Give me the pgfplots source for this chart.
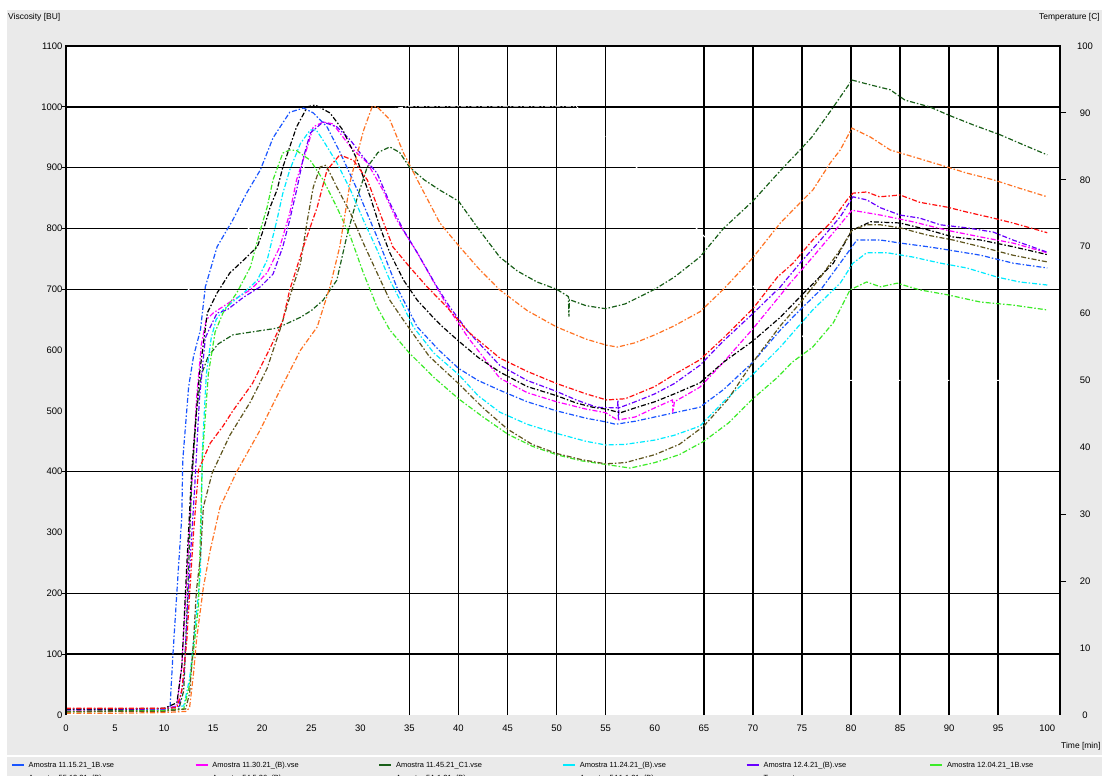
\documentclass[border=0pt]{standalone}
\usepackage{fontspec}
\setmainfont{Liberation Sans}
\usepackage{pgfplots}
\pgfplotsset{compat=1.18}

\definecolor{cBlue}{RGB}{25,85,255}
\definecolor{cMagenta}{RGB}{255,0,255}
\definecolor{cDkGreen}{RGB}{25,95,25}
\definecolor{cCyan}{RGB}{0,235,255}
\definecolor{cPurple}{RGB}{105,0,255}
\definecolor{cLtGreen}{RGB}{60,235,40}
\definecolor{cOlive}{RGB}{95,85,30}
\definecolor{cOrange}{RGB}{255,115,35}
\definecolor{cRed}{RGB}{255,15,15}
\definecolor{panel}{RGB}{234,234,234}

\pgfplotsset{
  curve/.style={no marks, line width=1.2bp, dash pattern=on 5bp off 2bp on 1.5bp off 2bp},
}
\newcommand{\entry}[1]{\makebox[170bp][l]{\hspace{4bp}#1}}

\begin{document}
\begin{tikzpicture}
% window background
\fill[white] (-66bp,-61bp) rectangle (1036bp,715bp);
\fill[panel] (-59bp,-61bp) rectangle (1036bp,705bp);
\draw[white, line width=1.5bp] (-59bp,-41bp) -- (1036bp,-41bp);

\begin{axis}[
  scale only axis, width=994bp, height=669bp,
  xmin=0, xmax=101.3, ymin=0, ymax=1100,
  axis background/.style={fill=white},
  axis line style={draw=none},
  xtick={0,5,...,100}, ytick={0,100,...,1100},
  major tick length=0pt,
  xtick pos=bottom, ytick pos=left,
  extra x ticks={35,40,45,50,55,65,70,75,80,85,90,95},
  extra x tick labels={},
  extra x tick style={grid=major, major tick length=0pt},
  extra y ticks={100,200,400,700,800,900,1000},
  extra y tick labels={},
  extra y tick style={grid=major, tick align=outside, major tick length=4bp},
  grid style={black, line width=1.5bp},
  tick style={black, line width=1.2bp},
  ticklabel style={font=\fontsize{9.5}{11}\selectfont, text=black},
  xticklabel style={yshift=-6bp},
  /pgf/number format/assume math mode=true,
  /pgf/number format/1000 sep={},
  legend columns=6,
  legend style={at={(axis description cs:-0.0553,-0.0700)}, anchor=north west,
    draw=none, fill=none, inner sep=0pt, outer sep=0pt,
    font=\fontsize{7.5}{9}\selectfont, column sep=0pt, row sep=6bp,
    nodes={inner sep=0pt}},
  legend image code/.code={\draw[#1, solid, line width=1.7bp] (0bp,0bp) -- (12bp,0bp);},
]

% temperature profile (right scale, 1 degree = 11 BU)
\addplot[white, line width=1bp, dash pattern=on 5bp off 2bp on 1.5bp off 2bp, forget plot,
  y filter/.expression={11*y}] coordinates {
  (0,44) (12.5,63.6) (18.6,72.7) (24.2,81.8) (29,88.5) (32,90.3) (35,91) (52,91) (79.5,50) (101,50)};

% blue
\addplot[curve, cBlue] coordinates {
  (0,10) (5,10) (10,10) (10.6,12) (10.9,100) (11.4,227) (11.8,326) (11.9,419) (12.5,540) (13.0,590)
  (13.7,633) (14.2,704) (15.4,770) (17.0,814) (18.4,858) (19.8,896) (21.1,949) (22.8,991) (24.2,998)
  (25.2,990) (26.6,967) (27.9,926) (29.7,863) (31.7,786) (33.7,704) (35.8,638) (38,600) (40,570)
  (42,550) (44.2,534) (47,515) (50,500) (53,488) (55,482) (56,478) (58,483) (60,490) (62,497)
  (64.6,506) (67,535) (70,580) (72.8,633) (74.8,666) (76.9,699) (78.9,743) (80.6,781) (83,781)
  (85,776) (87.8,770) (89.8,765) (93.2,756) (96.5,743) (100,735)};
\addlegendentry{\entry{Amostra 11.15.21\_1B.vse}}

% magenta
\addplot[curve, cMagenta] coordinates {
  (0,8) (5,9) (10,10) (11.3,15) (11.8,80) (12.3,222) (12.8,375) (13.3,520) (13.8,610) (14.3,650)
  (15.0,661) (17.0,682) (18.8,699) (20.5,727) (21.8,770) (22.8,825) (23.5,880) (24.6,934) (25.2,967)
  (26.2,975) (27.2,972) (29.0,934) (30.7,908) (32.3,863) (33.7,814) (35.8,760) (38.1,694) (39.1,666)
  (41,620) (44.2,554) (47,530) (50,515) (53,503) (55,497) (56.2,485) (58,490) (60,505) (61.8,518)
  (61.85,497) (62,515) (64.6,539) (67,580) (70,635) (73.8,710) (76.1,753) (78.2,793) (80.1,830)
  (83,822) (86.3,811) (89.8,797) (93.2,786) (96.5,776) (100,760)};
\addlegendentry{\entry{Amostra 11.30.21\_(B).vse}}

% dark green
\addplot[curve, cDkGreen] coordinates {
  (0,6) (5,7) (10,8) (11.5,10) (12.0,40) (12.4,200) (12.8,380) (13.3,500) (13.8,560) (14.5,590)
  (15.5,610) (17,625) (19,630) (21.5,636) (23.9,654) (25,665) (26.2,682) (27.6,715) (28.6,786)
  (29.7,852) (30.7,901) (31.8,925) (33,934) (34,925) (35,901) (36.5,880) (38.1,863) (40,845)
  (42,800) (44.2,753) (46,730) (48,712) (50,700) (51.2,688) (51.25,655) (51.3,683) (53,673)
  (55,668) (57,676) (60,700) (62,720) (64.6,753) (67,800) (70,845) (72.8,895) (74.8,929) (76,950)
  (78,995) (80.1,1044) (82,1036) (84,1028) (85.5,1011) (88,1000) (90,986) (92.5,970) (95.2,954)
  (97.5,938) (100,921)};
\addlegendentry{\entry{Amostra 11.45.21\_C1.vse}}

% cyan
\addplot[curve, cCyan] coordinates {
  (0,9) (5,10) (10,10) (12,15) (12.6,60) (13.2,150) (13.7,233) (13.9,436) (14.3,560) (14.8,620)
  (15.3,650) (16,666) (18.1,694) (19.5,715) (20.5,748) (21.5,814) (22.1,858) (22.8,896) (23.9,940)
  (24.9,962) (25.5,962) (26.2,945) (27.6,908) (29,863) (30.3,814) (31.7,765) (33,715) (34.4,671)
  (35.4,638) (37.5,595) (40,560) (42,525) (44.2,498) (47,478) (50,463) (53,450) (55,444) (57,445)
  (60,452) (62,460) (64.6,475) (67,515) (70,560) (72.8,605) (76.1,666) (78.9,710) (80.2,743)
  (81.6,760) (83.7,760) (86.3,753) (89.1,743) (91.8,735) (94.9,720) (97.2,712) (100,707)};
\addlegendentry{\entry{Amostra 11.24.21\_(B).vse}}

% purple
\addplot[curve, cPurple] coordinates {
  (0,9) (5,9) (10,10) (11.5,14) (12.0,60) (12.6,240) (13.1,370) (13.6,520) (14.2,620) (14.7,638)
  (15.4,661) (16.4,666) (18.1,687) (19.8,704) (21.1,725) (22.1,770) (22.8,814) (23.5,863) (24.2,917)
  (24.9,957) (26.2,975) (27.6,967) (29.0,945) (30.3,917) (31.7,891) (33.0,842) (34.4,797) (35.8,760)
  (37.8,704) (39.1,671) (41,630) (44.2,575) (47,550) (50,532) (52,518) (54.1,506) (56.2,505)
  (56.25,518) (56.3,485) (56.35,505) (58,515) (60,528) (62,545) (64.6,575) (67,615) (70,660)
  (72.8,704) (74.8,743) (76.9,781) (78.9,819) (80.2,852) (81.6,847) (83,834) (85,822) (87,817)
  (89.1,806) (91.8,801) (94.5,794) (96.5,781) (100,761)};
\addlegendentry{\entry{Amostra 12.4.21\_(B).vse}}

% light green
\addplot[curve, cLtGreen] coordinates {
  (0,5) (5,6) (10,7) (12,10) (12.6,50) (13.5,178) (13.9,424) (14.5,560) (15.2,630) (16,661)
  (17.4,694) (18.8,737) (19.8,797) (20.5,835) (21.1,880) (22.1,924) (22.8,929) (23.5,928) (24.9,912)
  (26.2,880) (27.6,835) (29,786) (30.3,727) (31.7,671) (33,633) (35,595) (37.5,555) (40,520)
  (42.5,490) (45,462) (47.5,442) (50,428) (52.5,418) (55,412) (57.5,406) (60,415) (62.5,428)
  (65,450) (67.5,480) (70,520) (72.5,555) (74,580) (76.1,605) (78.2,645) (79.9,699) (81.6,712)
  (83,704) (84.7,710) (87,699) (89.8,691) (93.2,679) (96.5,674) (100,666)};
\addlegendentry{\entry{Amostra 12.04.21\_1B.vse}}

% black
\addplot[curve, black] coordinates {
  (0,10) (5,10) (10,11) (11.3,20) (11.8,79) (12.3,243) (12.8,398) (13.0,441) (13.6,560) (14.4,661)
  (15.4,694) (16.7,727) (18.1,748) (19.5,770) (20.1,797) (20.8,835) (21.5,863) (22.1,901) (22.8,934)
  (23.5,967) (24.6,1000) (25.4,1003) (26.9,990) (28.2,962) (29.7,912) (31,852) (32,802) (33,760)
  (34.4,715) (35.8,682) (37.4,654) (38.4,638) (40,615) (42,588) (44.2,564) (47,540) (50,525)
  (52,513) (53.7,506) (55,503) (56.5,497) (58,505) (60,515) (62,528) (64.6,546) (67,580) (70,615)
  (72.8,654) (75.5,699) (78.2,743) (80.1,797) (82,811) (85,809) (88,797) (90.4,786) (93.2,781)
  (96.5,770) (100,757)};
\addlegendentry{\entry{Amostra 55.12.21\_(B).vse}}

% olive
\addplot[curve, cOlive] coordinates {
  (0,5) (5,6) (10,6) (12.2,10) (12.6,36) (13.0,123) (13.3,206) (13.7,260) (14.0,342) (14.9,398)
  (16.7,460) (18.8,515) (20.5,570) (21.8,633) (22.8,687) (23.9,743) (24.6,814) (25.2,868) (25.9,901)
  (26.5,904) (27.6,868) (29,825) (30.3,776) (31.7,727) (33,682) (34.4,649) (37,590) (40,545)
  (42.5,505) (45,470) (47.5,445) (50,430) (52.5,420) (55,413) (57,415) (60,428) (62.5,445) (65,475)
  (67.5,520) (70,580) (72.8,640) (74.8,677) (76.9,720) (78.9,765) (80.1,797) (81.6,806) (83,806)
  (85,801) (87.8,789) (90.4,781) (93.2,770) (96.5,756) (100,745)};
\addlegendentry{\entry{Amostra 54.5.26\_(B).vse}}

% orange
\addplot[curve, cOrange] coordinates {
  (0,3) (5,3) (10,4) (12.3,6) (12.6,13) (13.0,69) (13.3,123) (14.0,210) (14.7,271) (15.7,342)
  (17.4,400) (19.8,469) (22,540) (23.9,600) (25.6,638) (26.9,704) (27.9,770) (29,880) (30.3,960)
  (31.2,1000) (31.7,1000) (33,979) (34.4,924) (35.8,880) (38.1,809) (40,772) (42,735) (44.2,699)
  (47,665) (50,638) (53,618) (55.1,608) (56.2,605) (58,612) (60,625) (62,640) (64.6,663) (67,700)
  (70,752) (72.8,809) (74.8,842) (76.1,863) (77.9,908) (78.9,929) (80.1,965) (82,950) (84,929)
  (86.3,918) (89.8,901) (91.8,891) (94.5,880) (97.2,866) (100,852)};
\addlegendentry{\entry{Amostra 5A.1.21\_(B).vse}}

% red
\addplot[curve, cRed] coordinates {
  (0,11) (5,11) (10,11) (11.3,12) (11.8,40) (12.3,120) (12.6,200) (13.0,300) (13.5,403) (14.7,447)
  (16,475) (17,500) (19,545) (21,610) (22.1,649) (22.8,699) (24.2,770) (25.6,835) (26.6,896)
  (27.9,921) (29.3,912) (30.7,880) (32,825) (33.3,770) (35,737) (36.8,704) (38.8,671) (41,630)
  (44.2,587) (47,565) (50,545) (53,528) (55.1,518) (57,520) (60,540) (62,560) (64.6,584) (67,620)
  (70,668) (72.5,720) (74.1,743) (76.1,781) (77.9,809) (79.6,847) (80.2,858) (81.6,860) (82.9,852)
  (85,855) (87,843) (89.8,835) (91.8,827) (94.5,817) (96.5,809) (100,793)};
\addlegendentry{\entry{Amostra 5A1.1.21\_(B).vse}}

\addlegendimage{white, line width=1.2bp}
\addlegendentry{\entry{Temperatura}}
\end{axis}

% right-hand temperature scale
\begin{axis}[
  scale only axis, width=994bp, height=669bp,
  xmin=0, xmax=101.3, ymin=0, ymax=100,
  axis x line=none, axis y line*=right,
  axis line style={draw=none},
  ytick={0,10,...,100}, major tick length=0pt,
  extra y ticks={20,30,80,90}, extra y tick labels={},
  extra y tick style={tick align=outside, major tick length=6bp},
  tick style={black, line width=1.2bp},
  yticklabel style={anchor=center, xshift=25bp, font=\fontsize{9.5}{11}\selectfont, text=black},
  /pgf/number format/assume math mode=true,
]
\end{axis}

% plot frame (open at the bottom)
\draw[black, line width=1.4bp] (0bp,0bp) -- (0bp,669bp) -- (994bp,669bp) -- (994bp,0bp);

\node[anchor=west, font=\fontsize{8.5}{10}\selectfont, inner sep=0pt] at (-58bp,698bp) {Viscosity [BU]};
\node[anchor=east, font=\fontsize{8.5}{10}\selectfont, inner sep=0pt] at (1034bp,698bp) {Temperature [C]};
\node[anchor=west, font=\fontsize{8.5}{10}\selectfont, inner sep=0pt] at (995bp,-31bp) {Time [min]};

\pgfresetboundingbox
\useasboundingbox (-66bp,-61bp) rectangle (1036bp,715bp);
\end{tikzpicture}
\end{document}
